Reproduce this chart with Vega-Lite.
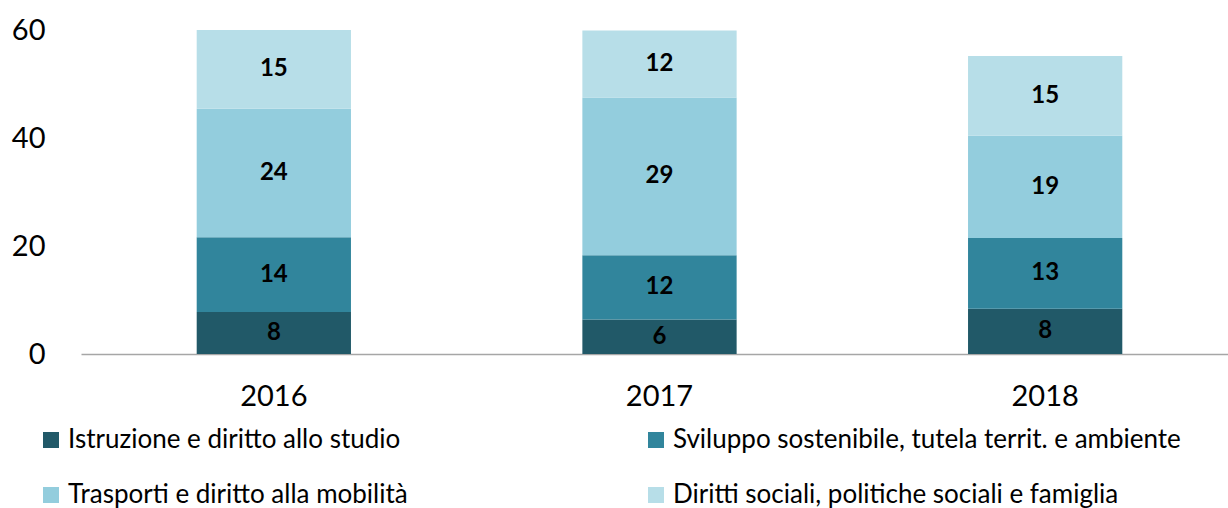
{
  "$schema": "https://vega.github.io/schema/vega-lite/v6.json",
  "autosize": {"type": "none"},
  "padding": {"left": 81, "top": 30, "right": 0, "bottom": 154},
  "width": 1157,
  "height": 324,
  "config": {
    "view": {"stroke": null},
    "font": "Lato"
  },
  "data": {
    "values": [
      {"year": "2016", "cat": "Istruzione e diritto allo studio", "ord": 1, "value": 7.8},
      {"year": "2016", "cat": "Sviluppo sostenibile, tutela territ. e ambiente", "ord": 2, "value": 13.8},
      {"year": "2016", "cat": "Trasporti e diritto alla mobilità", "ord": 3, "value": 23.8},
      {"year": "2016", "cat": "Diritti sociali, politiche sociali e famiglia", "ord": 4, "value": 14.6},
      {"year": "2017", "cat": "Istruzione e diritto allo studio", "ord": 1, "value": 6.4},
      {"year": "2017", "cat": "Sviluppo sostenibile, tutela territ. e ambiente", "ord": 2, "value": 11.9},
      {"year": "2017", "cat": "Trasporti e diritto alla mobilità", "ord": 3, "value": 29.2},
      {"year": "2017", "cat": "Diritti sociali, politiche sociali e famiglia", "ord": 4, "value": 12.4},
      {"year": "2018", "cat": "Istruzione e diritto allo studio", "ord": 1, "value": 8.4},
      {"year": "2018", "cat": "Sviluppo sostenibile, tutela territ. e ambiente", "ord": 2, "value": 13.1},
      {"year": "2018", "cat": "Trasporti e diritto alla mobilità", "ord": 3, "value": 18.9},
      {"year": "2018", "cat": "Diritti sociali, politiche sociali e famiglia", "ord": 4, "value": 14.8}
    ]
  },
  "transform": [
    {"stack": "value", "groupby": ["year"], "sort": [{"field": "ord", "order": "ascending"}], "as": ["y0", "y1"]},
    {"calculate": "(datum.y0 + datum.y1) / 2", "as": "ymid"}
  ],
  "layer": [
    {
      "mark": {"type": "bar"},
      "encoding": {
        "x": {
          "field": "year", "type": "nominal",
          "scale": {"paddingInner": 0.6, "paddingOuter": 0.3},
          "axis": {"title": null, "labelAngle": 0, "labelFontSize": 29, "labelColor": "#000000", "labelPadding": 28, "ticks": false, "domainColor": "#A6A6A6", "domainWidth": 1.5, "labelFont": "Lato"}
        },
        "y": {
          "field": "y0", "type": "quantitative",
          "scale": {"domain": [0, 60], "nice": false},
          "axis": {"title": null, "values": [0, 20, 40, 60], "grid": false, "domain": false, "ticks": false, "labelFontSize": 29, "labelColor": "#000000", "labelPadding": 36, "labelFont": "Lato"}
        },
        "y2": {"field": "y1"},
        "color": {
          "field": "cat", "type": "nominal",
          "scale": {
            "domain": ["Istruzione e diritto allo studio", "Trasporti e diritto alla mobilità", "Sviluppo sostenibile, tutela territ. e ambiente", "Diritti sociali, politiche sociali e famiglia"],
            "range": ["#215968", "#93CDDD", "#31859C", "#B7DEE8"]
          },
          "legend": {
            "title": null,
            "orient": "none",
            "legendX": -43,
            "legendY": 397,
            "columns": 2,
            "columnPadding": 235,
            "rowPadding": 29,
            "symbolType": "square",
            "symbolSize": 256,
            "symbolStrokeWidth": 0,
            "symbolOffset": 0,
            "labelFontSize": 26,
            "labelColor": "#000000",
            "labelFont": "Lato",
            "labelOffset": 4,
            "labelLimit": 700
          }
        }
      }
    },
    {
      "mark": {"type": "text", "fontSize": 24, "fontWeight": "bold", "color": "#000000", "baseline": "middle", "font": "Lato"},
      "encoding": {
        "x": {"field": "year", "type": "nominal"},
        "y": {"field": "ymid", "type": "quantitative"},
        "text": {"field": "value", "type": "quantitative", "format": ".0f"}
      }
    }
  ]
}
